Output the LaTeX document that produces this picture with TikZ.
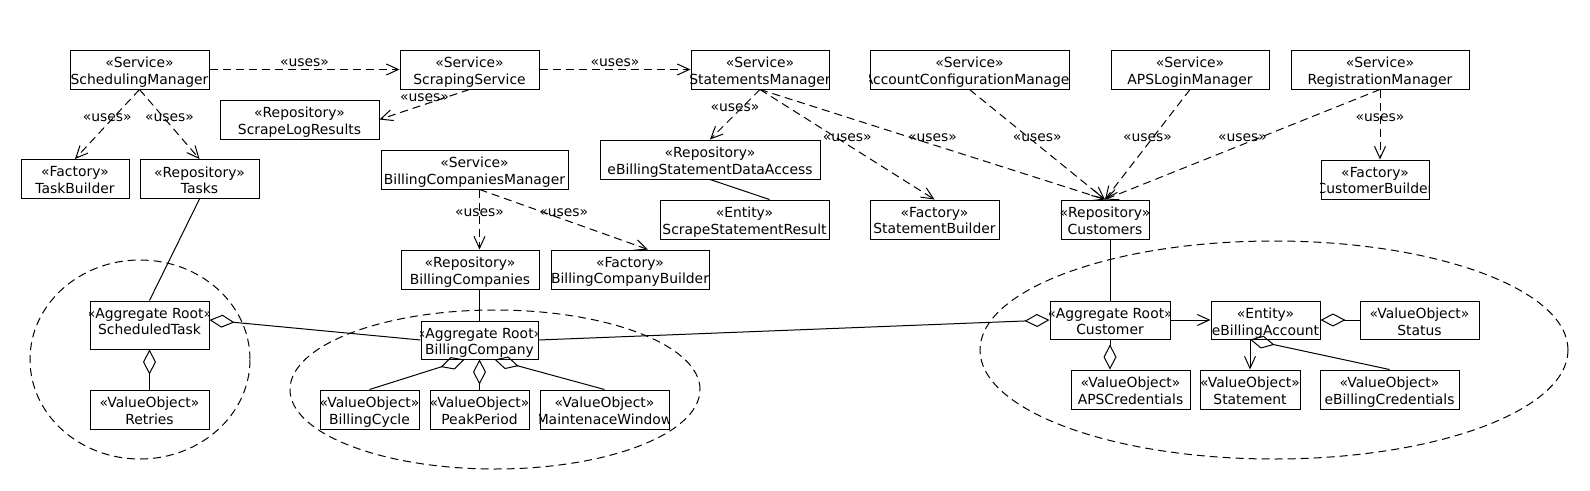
\documentclass[tikz,border=0pt]{standalone}
\usepackage{fontspec}
\setmainfont{DejaVu Sans}
\usetikzlibrary{arrows.meta,calc}

\tikzset{
  box/.style={draw,fill=white,line width=1pt,inner sep=0pt},
  txt/.style={align=center,inner sep=0pt,anchor=north,yshift=-7.5pt,
    font=\fontsize{13.9}{16.3}\selectfont},
  lbl/.style={above=2.5pt,inner sep=0pt,font=\fontsize{13.9}{16.3}\selectfont},
  dep/.style={line width=1pt,dash pattern=on 8pt off 5pt,
    -{Straight Barb[length=12pt,width=11pt]}},
  nav/.style={line width=1pt,-{Straight Barb[length=12pt,width=11pt]}},
  assoc/.style={line width=1pt},
  agg/.style={line width=1pt,{Diamond[open,length=25pt,width=13pt]}-},
  gagg/.style={line width=1pt,-{Diamond[open,length=25pt,width=13pt]}},
  grp/.style={line width=1pt,dash pattern=on 8pt off 5pt}
}

\newcommand{\umlclass}[6]{%
  \node[box,minimum width=#3pt,minimum height=#4pt] (#1) at (#2) {};
  \begin{scope}
    \clip (#1.south west) rectangle (#1.north east);
    \node[txt] (#1-t) at (#1.north) {«#5»\\#6};
  \end{scope}}

\begin{document}
\begin{tikzpicture}[x=1pt,y=-1pt]
  \useasboundingbox (0,0) rectangle (1590,490);

  \draw[grp] (140,359.5) ellipse [x radius=110pt,y radius=99.5pt];
  \draw[grp] (495,389.5) ellipse [x radius=205pt,y radius=79.5pt];
  \draw[grp] (1274,350) ellipse [x radius=294pt,y radius=109pt];

  \umlclass{sm}{139.5,69.5}{139}{39}{Service}{SchedulingManager}
  \umlclass{ss}{469.5,69.5}{139}{39}{Service}{ScrapingService}
  \umlclass{stm}{760,69.5}{138}{39}{Service}{StatementsManager}
  \umlclass{acm}{969.5,69.5}{199}{39}{Service}{AccountConfigurationManager}
  \umlclass{aps}{1190,69.5}{158}{39}{Service}{APSLoginManager}
  \umlclass{reg}{1380,69.5}{178}{39}{Service}{RegistrationManager}
  \umlclass{slr}{299.5,119.5}{159}{39}{Repository}{ScrapeLogResults}
  \umlclass{tb}{75,179}{108}{39}{Factory}{TaskBuilder}
  \umlclass{tasks}{199.5,179}{119}{39}{Repository}{Tasks}
  \umlclass{bcm}{474.5,169.5}{187}{39}{Service}{BillingCompaniesManager}
  \umlclass{ebsda}{710,159.5}{220}{39}{Repository}{eBillingStatementDataAccess}
  \umlclass{ssr}{744.5,219.5}{169}{39}{Entity}{ScrapeStatementResult}
  \umlclass{sb}{934.5,219.5}{129}{39}{Factory}{StatementBuilder}
  \umlclass{cust}{1105,219.5}{88}{39}{Repository}{Customers}
  \umlclass{cb}{1375,179.5}{108}{39}{Factory}{CustomerBuilder}
  \umlclass{bcs}{470,269.5}{138}{39}{Repository}{BillingCompanies}
  \umlclass{bcb}{630,269.5}{158}{39}{Factory}{BillingCompanyBuilder}
  \umlclass{st}{149.5,325}{119}{48}{Aggregate Root}{ScheduledTask}
  \umlclass{bc}{479.5,340}{117}{38}{Aggregate Root}{BillingCompany}
  \umlclass{ret}{149.5,409.5}{119}{39}{ValueObject}{Retries}
  \umlclass{bcy}{369.5,409.5}{99}{39}{ValueObject}{BillingCycle}
  \umlclass{pp}{479.5,409.5}{99}{39}{ValueObject}{PeakPeriod}
  \umlclass{mw}{604.5,409.5}{129}{39}{ValueObject}{MaintenaceWindow}
  \umlclass{cu}{1110,320}{120}{38}{Aggregate Root}{Customer}
  \umlclass{eba}{1265.5,320}{109}{38}{Entity}{eBillingAccount}
  \umlclass{sta}{1419.5,320}{119}{38}{ValueObject}{Status}
  \umlclass{apsc}{1130.5,389.5}{119}{39}{ValueObject}{APSCredentials}
  \umlclass{stmt}{1250,389.5}{100}{39}{ValueObject}{Statement}
  \umlclass{ebc}{1389.5,389.5}{139}{39}{ValueObject}{eBillingCredentials}

  \draw[dep] (sm.east) -- node[lbl] (u1) {«uses»} (ss.west);
  \draw[dep] (ss.east) -- node[lbl] (u2) {«uses»} (stm.west);
  \draw[dep] (sm.south) -- node[lbl] (u3) {«uses»} (tb.north);
  \draw[dep] (sm.south) -- node[lbl] (u4) {«uses»} (tasks.north);
  \draw[dep] (ss.south) -- node[lbl] (u5) {«uses»} (slr.east);
  \draw[dep] (stm.south) -- node[lbl] (u6) {«uses»} (ebsda.north);
  \draw[dep] (stm.south) -- node[lbl] (u7) {«uses»} (sb.north);
  \draw[dep] (stm.south) -- node[lbl] (u8) {«uses»} (cust.north);
  \draw[dep] (acm.south) -- node[lbl] (u9) {«uses»} (cust.north);
  \draw[dep] (aps.south) -- node[lbl] (u10) {«uses»} (cust.north);
  \draw[dep] (reg.south) -- node[lbl] (u11) {«uses»} (cust.north);
  \draw[dep] (reg.south) -- node[lbl] (u12) {«uses»} (reg.south |- cb.north);
  \draw[dep] (bcm.south -| bc.north) -- node[lbl] (u13) {«uses»} (bcs.north -| bc.north);
  \draw[dep] (bcm.south -| bc.north) -- node[lbl] (u14) {«uses»} ($(bcb.north)+(18,0)$);

  \draw[assoc] (tasks.south) -- (st.north);
  \draw[assoc] (ebsda.south) -- ($(ssr.north)+(25,0)$);
  \draw[assoc] (bcs.south -| bc.north) -- (bc.north);
  \draw[assoc] (cust.south -| cu.north) -- (cu.north);
  \draw[agg] ($(st.east)+(0,-5)$) -- (bc.west);
  \draw[agg] (st.south) -- (ret.north);
  \draw[agg] ($(bc.south)+(-15,0)$) -- (bcy.north);
  \draw[agg] (bc.south) -- (pp.north);
  \draw[agg] ($(bc.south)+(15,0)$) -- (mw.north);
  \draw[gagg] (bc.east) -- (cu.west);
  \draw[nav] (cu.east) -- (eba.west);
  \draw[agg] (eba.east) -- (sta.west);
  \draw[gagg] (cu.south) -- (cu.south |- apsc.north);
  \draw[nav] (stmt.north |- eba.south) -- (stmt.north);
  \draw[agg] (stmt.north |- eba.south) -- (ebc.north);
\end{tikzpicture}
\end{document}
